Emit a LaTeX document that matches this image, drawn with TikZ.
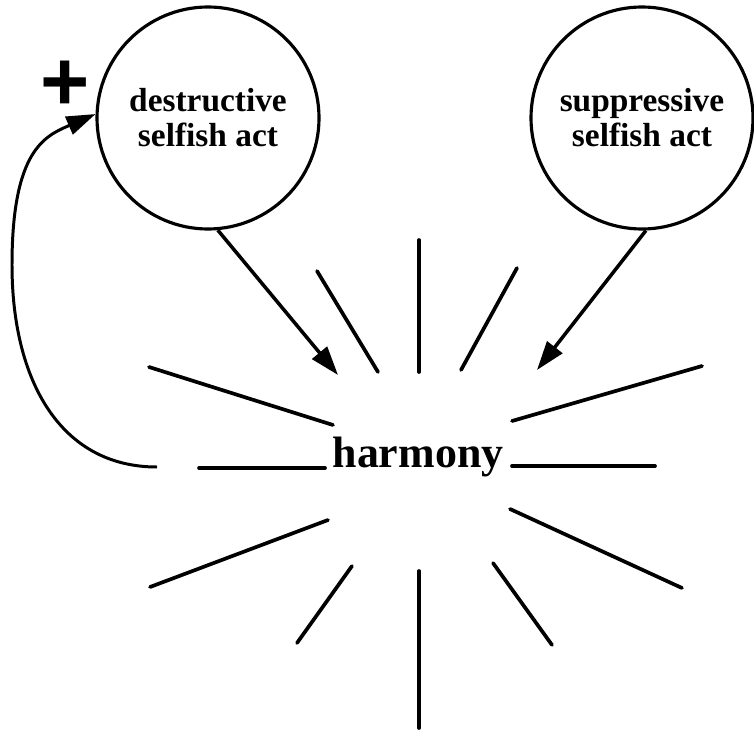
\documentclass[tikz,border=0pt]{standalone}
\usepackage{fontspec}
\setmainfont{Liberation Serif}
\setsansfont{Liberation Sans}
\usepackage{tikz}
\usetikzlibrary{arrows.meta, positioning}

\tikzset{
    act/.style={circle, draw, line width=1.8pt, minimum size=4.44cm, inner sep=0pt,
        align=center, font=\fontsize{19}{20}\selectfont\bfseries},
    ray/.style={line width=2.1pt, line cap=round},
    push/.style={line width=2pt, -{Triangle[length=0.58cm, width=0.38cm]}},
}

\begin{document}
\begin{tikzpicture}
    \useasboundingbox (0,0) rectangle (15.08,-14.64);

    \node[act] (destr) at (4.16, -2.36) {destructive\\selfish act};
    \node[act] (suppr) at (12.84, -2.36) {suppressive\\selfish act};
    \node[font=\fontsize{25}{30}\selectfont\bfseries, anchor=base] (harm) at (8.36, -9.34) {harmony};
    \node[font=\fontsize{48}{48}\selectfont\sffamily\bfseries] (plus) at (1.3, -1.72) {+};

    % rays round harmony
    \foreach \xa/\ya/\xb/\yb in {
        8.38/-4.8/8.38/-7.44, 6.34/-5.42/7.56/-7.44, 10.34/-5.36/9.22/-7.4,
        2.98/-7.34/6.66/-8.5, 14.04/-7.32/10.24/-8.42,
        3.98/-9.36/6.5/-9.36, 10.24/-9.32/13.1/-9.32,
        3.0/-11.74/6.56/-10.4, 10.2/-10.18/13.64/-11.76,
        5.94/-12.86/7.04/-11.32, 9.86/-11.26/11.04/-12.9,
        8.38/-11.42/8.38/-14.56}
        \draw[ray] (\xa,\ya) -- (\xb,\yb);

    \coordinate (tipL) at (6.76, -7.5);
    \coordinate (tipR) at (10.74, -7.4);
    \coordinate (fb) at (3.14, -9.34);

    \draw[push] (destr.-85) -- (tipL);
    \draw[push] (suppr.-88) -- (tipR);

    % feedback loop
    \draw[line width=1.7pt, -{Triangle[length=0.58cm, width=0.38cm]}]
        (fb) .. controls (1.2, -9.34) and (0.24, -7.6) .. (0.24, -5.3)
        .. controls (0.24, -3.0) and (0.9, -2.72) .. (destr.178);
\end{tikzpicture}
\end{document}
